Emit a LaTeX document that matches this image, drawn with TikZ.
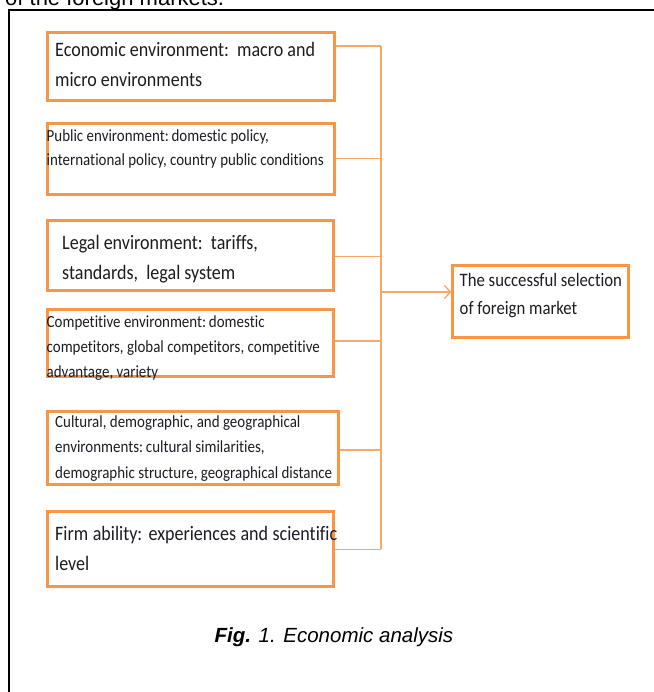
\documentclass[tikz,border=0pt]{standalone}
\usepackage{fontspec}
\setmainfont{Liberation Sans}
\newfontfamily\boxfont[FakeStretch=0.88,Ligatures=NoCommon]{Carlito}
\usetikzlibrary{arrows.meta}
\definecolor{boxorange}{HTML}{F79646}
\definecolor{linkorange}{HTML}{F9A866}
\definecolor{txt}{HTML}{1C1C24}
\tikzset{
  factorbox/.style={draw=boxorange, line width=3pt, rectangle, inner sep=0pt, fill=none},
  bigtext/.style={anchor=base west, inner sep=0pt, text=txt, font=\boxfont\fontsize{20.5}{30}\selectfont},
  smalltext/.style={anchor=base west, inner sep=0pt, text=txt, font=\boxfont\fontsize{17}{25}\selectfont},
  link/.style={draw=linkorange, line width=1.3pt},
  frame/.style={draw=black, line width=2.2pt}
}
\begin{document}
\begin{tikzpicture}[x=1pt,y=-1pt]
\useasboundingbox (0,0) rectangle (653,692);
% page fragment and frame
\node[anchor=base west, inner sep=0pt, font=\fontsize{22}{26}\selectfont] (pagetext) at (5,5.5) {of the foreign markets.};
\coordinate (frtl) at (9,10.3);
\coordinate (frtr) at (660,10.3);
\coordinate (frbl) at (9,700);
\draw[frame] (frbl) -- (frtl) -- (frtr);
% boxes
\node[factorbox, minimum width=287pt, minimum height=68pt] (econ) at (190.5,67) {};
\node[factorbox, minimum width=287pt, minimum height=71.5pt] (public) at (190.5,159.25) {};
\node[factorbox, minimum width=286.5pt, minimum height=69.7pt] (legal) at (190.25,255.85) {};
\node[factorbox, minimum width=286.5pt, minimum height=67.7pt] (compet) at (190.25,342.85) {};
\node[factorbox, minimum width=291pt, minimum height=72.3pt] (cultural) at (192.5,447.85) {};
\node[factorbox, minimum width=286.5pt, minimum height=74.6pt] (firm) at (190.25,549) {};
\node[factorbox, minimum width=176pt, minimum height=71.5pt] (target) at (540.8,301.25) {};
% texts
\node[bigtext] (econtxt) at (55,57) {\parbox[t]{300pt}{Economic environment:\ \ macro and\\micro environments}};
\node[smalltext, font=\boxfont\fontsize{17}{24}\selectfont] (publictxt) at (46.5,142) {\parbox[t]{300pt}{Public environment:\,domestic policy,\\international policy, country public conditions}};
\node[bigtext] (legaltxt) at (62,249.3) {\parbox[t]{300pt}{Legal environment:\ \ tariffs,\\standards,\ \ legal system}};
\node[smalltext, font=\boxfont\fontsize{17}{25}\selectfont] (compettxt) at (46.5,327.3) {\parbox[t]{300pt}{Competitive environment:\,domestic\\competitors, global competitors, competitive\\advantage, variety}};
\node[smalltext, font=\boxfont\fontsize{17}{25.5}\selectfont] (culturaltxt) at (55,427.3) {\parbox[t]{300pt}{Cultural, demographic, and geographical\\environments:\,cultural similarities,\\demographic structure, geographical distance}};
\node[bigtext] (firmtxt) at (55,540) {\parbox[t]{300pt}{\makebox[282pt][s]{Firm ability: experiences and scientific}\\level}};
\node[bigtext, font=\boxfont\fontsize{19}{28.7}\selectfont] (targettxt) at (459.5,286) {\parbox[t]{170pt}{The successful selection\\of foreign market}};
% connectors
\coordinate (j1) at (381,46);
\coordinate (j2) at (381,158.3);
\coordinate (j3) at (381,256.7);
\coordinate (j4) at (381,341);
\coordinate (j5) at (381,450);
\coordinate (j6) at (381,549.3);
\coordinate (ja) at (381,292);
\draw[link] (econ.east |- j1) -- (j1);
\draw[link] (public.east |- j2) -- (j2);
\draw[link] (legal.east |- j3) -- (j3);
\draw[link] (compet.east |- j4) -- (j4);
\draw[link] (cultural.east |- j5) -- (j5);
\draw[link] (firm.east |- j6) -- (j6);
\draw[link] (j1) -- (j6);
\draw[link, -{Straight Barb[length=6pt,width=13pt]}] (ja) -- (target.west |- ja);
% caption
\node[anchor=base west, inner sep=0pt, font=\fontsize{20.5}{24}\selectfont] (caption) at (214.5,642.3) {\textbf{\textit{Fig.}} \textit{1. Economic analysis}};
\end{tikzpicture}
\end{document}
